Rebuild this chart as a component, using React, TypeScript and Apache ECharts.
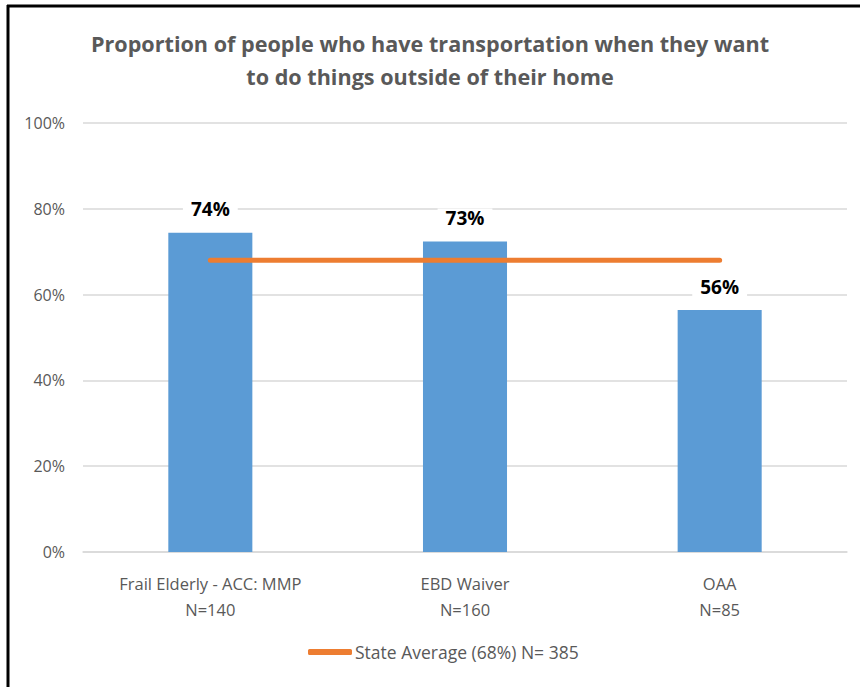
import React, { useEffect, useRef } from "react";
import * as echarts from "echarts";

const categories = ["Frail Elderly - ACC: MMP\nN=140", "EBD Waiver\nN=160", "OAA\nN=85"];
const barValues = [74.4, 72.4, 56.4];
const barLabels = ["74%", "73%", "56%"];
const stateAvgName = "State Average (68%) N= 385";
const stateAvg = [68, 68, 68];
const yTicks = [0, 20, 40, 60, 80, 100];

const FONT = "'Open Sans', 'Noto Sans', sans-serif";

export default function App() {
  const ref = useRef<HTMLDivElement>(null);
  useEffect(() => {
    document.body.style.margin = "0";
    const chart = echarts.init(ref.current!, null, { renderer: "svg" });
    chart.setOption({
      animation: false,
      backgroundColor: "#ffffff",
      textStyle: { fontFamily: FONT },
      title: {
        text: "Proportion of people who have transportation when they want\nto do things outside of their home",
        left: "center",
        top: 22,
        textStyle: { fontFamily: FONT, fontSize: 21.6, fontWeight: "bold", color: "#595959", lineHeight: 33 },
      },
      grid: { left: 83, right: 13, top: 123, bottom: 135 },
      legend: {
        bottom: 21,
        left: 303,
        data: [{ name: stateAvgName, icon: "roundRect" }],
        itemWidth: 44,
        itemHeight: 6,
        itemGap: 0,
        textStyle: { fontFamily: FONT, fontSize: 17.5, color: "#595959", padding: [0, 0, 0, -2] },
      },
      xAxis: {
        type: "category",
        data: categories,
        axisLine: { show: true, lineStyle: { color: "#d9d9d9", width: 1.5 } },
        axisTick: { show: false },
        axisLabel: { fontFamily: FONT, fontSize: 16.5, color: "#595959", lineHeight: 26, margin: 18 },
      },
      yAxis: {
        type: "value",
        min: 0,
        max: 100,
        interval: 20,
        axisLine: { show: false },
        axisTick: { show: false },
        splitLine: { lineStyle: { color: "#d9d9d9", width: 1.5 } },
        axisLabel: {
          fontFamily: FONT,
          fontSize: 16,
          color: "#595959",
          margin: 18,
          formatter: (v: number) => (yTicks.includes(v) ? v + "%" : ""),
        },
      },
      series: [
        {
          type: "bar",
          data: barValues,
          barWidth: "33%",
          itemStyle: { color: "#5b9bd5" },
          z: 2,
          label: {
            show: true,
            position: "top",
            distance: 14,
            fontFamily: FONT,
            fontSize: 19,
            fontWeight: "bold",
            color: "#000000",
            backgroundColor: "#ffffff",
            padding: [0, 8],
            formatter: (p: any) => barLabels[p.dataIndex],
          },
        },
        {
          type: "line",
          name: stateAvgName,
          data: stateAvg,
          symbol: "none",
          z: 3,
          lineStyle: { color: "#ed7d31", width: 5, cap: "round" },
          itemStyle: { color: "#ed7d31" },
        },
      ],
      graphic: [
        { type: "line", shape: { x1: 7, y1: 6, x2: 860, y2: 6 }, style: { stroke: "#000", lineWidth: 3 } },
        { type: "line", shape: { x1: 8, y1: 5, x2: 8, y2: 687 }, style: { stroke: "#000", lineWidth: 3 } },
      ],
    });
    return () => chart.dispose();
  }, []);
  return <div ref={ref} style={{ width: 860, height: 687 }} />;
}
